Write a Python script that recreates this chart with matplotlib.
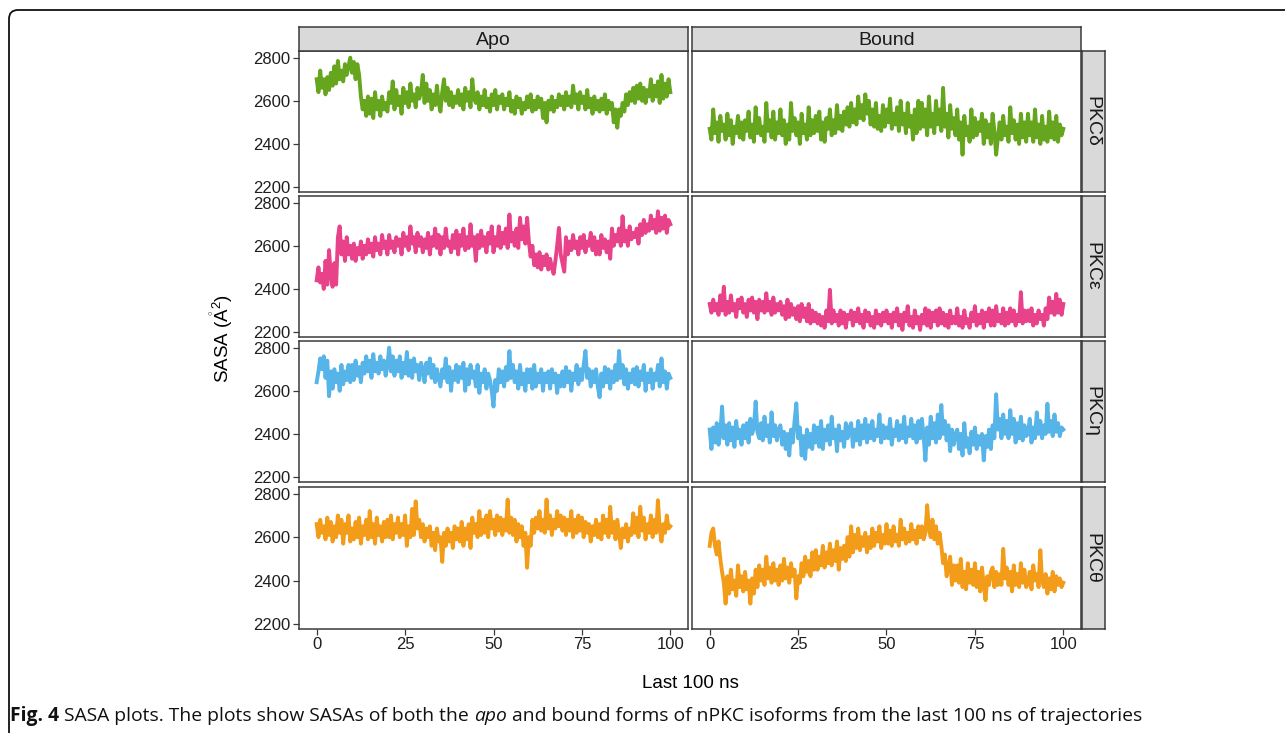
import matplotlib
matplotlib.use("Agg")
import matplotlib.pyplot as plt
import numpy as np
from matplotlib.patches import FancyBboxPatch
from matplotlib.transforms import IdentityTransform

plt.rcParams['font.family'] = ['Liberation Sans', 'DejaVu Sans']
plt.rcParams['mathtext.fontset'] = 'custom'
plt.rcParams['mathtext.rm'] = 'Liberation Sans'
plt.rcParams['mathtext.it'] = 'Liberation Sans:italic'

forms = ['Apo', 'Bound']
isoforms = ['PKCδ', 'PKCε', 'PKCη', 'PKCθ']
colors = ['#66A61E', '#E7428A', '#56B4E9', '#F39C1A']
y_ticks = [2200, 2400, 2600, 2800]
x_ticks = [0, 25, 50, 75, 100]

# SASA (A^2), one value every 0.5 ns (0 .. 100 ns)
apo_delta = [
    2700, 2640, 2740, 2660, 2700, 2630, 2710, 2650, 2730, 2670,
    2760, 2680, 2785, 2700, 2740, 2690, 2770, 2720, 2760, 2800,
    2730, 2780, 2700, 2770, 2720, 2620, 2560, 2600, 2530, 2620,
    2540, 2610, 2520, 2640, 2560, 2600, 2530, 2620, 2560, 2590,
    2550, 2640, 2590, 2690, 2560, 2650, 2580, 2620, 2540, 2660,
    2590, 2640, 2570, 2680, 2600, 2630, 2570, 2660, 2610, 2640,
    2720, 2590, 2680, 2600, 2650, 2560, 2630, 2580, 2670, 2590,
    2550, 2640, 2700, 2600, 2660, 2580, 2640, 2570, 2620, 2590,
    2650, 2580, 2630, 2560, 2660, 2600, 2640, 2570, 2700, 2610,
    2590, 2640, 2560, 2620, 2580, 2650, 2570, 2610, 2550, 2630,
    2580, 2650, 2560, 2620, 2590, 2630, 2560, 2610, 2580, 2640,
    2550, 2600, 2540, 2620, 2570, 2610, 2540, 2590, 2560, 2620,
    2570, 2630, 2550, 2600, 2560, 2620, 2570, 2610, 2520, 2590,
    2500, 2600, 2560, 2620, 2550, 2600, 2570, 2630, 2580, 2620,
    2560, 2640, 2580, 2620, 2570, 2670, 2590, 2630, 2560, 2640,
    2590, 2620, 2560, 2650, 2570, 2610, 2540, 2620, 2560, 2600,
    2550, 2610, 2560, 2630, 2540, 2600, 2560, 2590, 2500, 2560,
    2475, 2560, 2530, 2590, 2550, 2630, 2580, 2640, 2600, 2660,
    2590, 2670, 2610, 2680, 2600, 2660, 2590, 2650, 2620, 2700,
    2600, 2670, 2620, 2690, 2590, 2720, 2610, 2680, 2620, 2700,
    2640]
bound_delta = [
    2470, 2420, 2560, 2450, 2500, 2410, 2530, 2460, 2490, 2420,
    2540, 2440, 2510, 2400, 2480, 2450, 2530, 2430, 2500, 2420,
    2510, 2460, 2550, 2430, 2490, 2410, 2570, 2450, 2520, 2440,
    2480, 2410, 2590, 2460, 2510, 2430, 2550, 2420, 2500, 2450,
    2560, 2440, 2510, 2400, 2490, 2420, 2590, 2460, 2520, 2440,
    2500, 2400, 2540, 2450, 2490, 2420, 2570, 2440, 2510, 2450,
    2530, 2460, 2550, 2420, 2500, 2410, 2520, 2470, 2560, 2440,
    2510, 2450, 2580, 2470, 2530, 2460, 2550, 2490, 2570, 2480,
    2590, 2500, 2560, 2490, 2620, 2520, 2580, 2510, 2630, 2540,
    2600, 2490, 2560, 2480, 2590, 2470, 2530, 2460, 2580, 2480,
    2560, 2500, 2610, 2470, 2540, 2490, 2570, 2460, 2600, 2490,
    2540, 2450, 2590, 2480, 2530, 2420, 2560, 2450, 2600, 2470,
    2590, 2480, 2560, 2440, 2620, 2480, 2540, 2450, 2600, 2490,
    2560, 2460, 2660, 2480, 2540, 2430, 2580, 2470, 2520, 2440,
    2560, 2420, 2500, 2350, 2530, 2440, 2480, 2410, 2560, 2430,
    2520, 2440, 2500, 2460, 2540, 2400, 2510, 2430, 2490, 2400,
    2540, 2460, 2350, 2430, 2500, 2420, 2530, 2440, 2480, 2410,
    2570, 2450, 2510, 2420, 2490, 2400, 2540, 2430, 2500, 2410,
    2540, 2440, 2500, 2410, 2560, 2430, 2490, 2400, 2530, 2420,
    2480, 2410, 2550, 2430, 2500, 2420, 2530, 2410, 2490, 2440,
    2470]
apo_epsilon = [
    2440, 2500, 2430, 2470, 2400, 2530, 2420, 2580, 2460, 2410,
    2520, 2420, 2640, 2690, 2560, 2620, 2530, 2640, 2560, 2600,
    2540, 2610, 2530, 2590, 2560, 2620, 2540, 2600, 2560, 2630,
    2570, 2610, 2550, 2640, 2580, 2610, 2560, 2650, 2590, 2620,
    2560, 2650, 2590, 2620, 2570, 2640, 2600, 2630, 2560, 2660,
    2600, 2640, 2580, 2690, 2610, 2640, 2570, 2660, 2600, 2640,
    2570, 2630, 2590, 2660, 2560, 2640, 2600, 2680, 2590, 2650,
    2560, 2640, 2590, 2680, 2600, 2620, 2570, 2650, 2590, 2670,
    2560, 2650, 2600, 2680, 2580, 2640, 2590, 2700, 2600, 2640,
    2530, 2650, 2590, 2670, 2600, 2640, 2570, 2660, 2610, 2690,
    2570, 2640, 2600, 2690, 2590, 2660, 2610, 2680, 2590, 2745,
    2620, 2660, 2600, 2680, 2590, 2730, 2630, 2690, 2610, 2730,
    2620, 2550, 2600, 2510, 2560, 2500, 2570, 2490, 2550, 2510,
    2560, 2490, 2540, 2500, 2470, 2530, 2600, 2683, 2560, 2520,
    2480, 2640, 2560, 2620, 2580, 2650, 2590, 2620, 2560, 2640,
    2590, 2650, 2570, 2620, 2600, 2660, 2580, 2640, 2560, 2620,
    2560, 2650, 2590, 2630, 2570, 2620, 2540, 2680, 2600, 2650,
    2620, 2680, 2600, 2737, 2620, 2670, 2600, 2690, 2630, 2660,
    2640, 2680, 2610, 2700, 2650, 2720, 2660, 2700, 2670, 2740,
    2680, 2720, 2660, 2760, 2670, 2730, 2680, 2740, 2660, 2720,
    2700]
bound_epsilon = [
    2330, 2290, 2350, 2300, 2330, 2280, 2370, 2300, 2410, 2280,
    2340, 2290, 2370, 2300, 2330, 2270, 2350, 2310, 2360, 2290,
    2330, 2270, 2350, 2300, 2360, 2290, 2340, 2260, 2350, 2300,
    2340, 2290, 2380, 2300, 2340, 2280, 2360, 2290, 2330, 2300,
    2340, 2280, 2320, 2260, 2350, 2270, 2330, 2280, 2310, 2260,
    2320, 2250, 2330, 2270, 2310, 2250, 2330, 2240, 2300, 2250,
    2290, 2240, 2280, 2230, 2270, 2220, 2300, 2250, 2396, 2240,
    2300, 2250, 2280, 2230, 2300, 2240, 2290, 2220, 2280, 2260,
    2300, 2230, 2290, 2250, 2310, 2240, 2280, 2220, 2300, 2250,
    2290, 2230, 2270, 2220, 2300, 2240, 2280, 2230, 2290, 2250,
    2300, 2240, 2280, 2220, 2290, 2250, 2310, 2230, 2280, 2210,
    2290, 2250, 2320, 2230, 2270, 2220, 2300, 2240, 2270, 2210,
    2280, 2240, 2310, 2230, 2300, 2220, 2290, 2250, 2300, 2230,
    2310, 2240, 2290, 2230, 2280, 2220, 2300, 2240, 2270, 2240,
    2310, 2230, 2270, 2220, 2300, 2240, 2260, 2220, 2290, 2250,
    2320, 2230, 2280, 2240, 2300, 2220, 2290, 2250, 2310, 2230,
    2300, 2230, 2320, 2250, 2280, 2240, 2310, 2230, 2290, 2240,
    2310, 2250, 2300, 2230, 2280, 2250, 2385, 2240, 2300, 2250,
    2300, 2250, 2310, 2230, 2280, 2240, 2300, 2260, 2280, 2230,
    2310, 2260, 2360, 2290, 2340, 2280, 2377, 2290, 2350, 2280,
    2330]
apo_eta = [
    2640, 2690, 2750, 2700, 2760, 2660, 2740, 2575, 2690, 2610,
    2700, 2640, 2680, 2600, 2720, 2630, 2690, 2650, 2720, 2640,
    2720, 2650, 2740, 2670, 2710, 2640, 2730, 2680, 2760, 2690,
    2740, 2660, 2770, 2690, 2730, 2680, 2760, 2700, 2740, 2670,
    2720, 2800, 2690, 2760, 2670, 2740, 2690, 2760, 2660, 2730,
    2680, 2780, 2670, 2740, 2660, 2750, 2690, 2720, 2650, 2730,
    2700, 2640, 2730, 2680, 2750, 2660, 2720, 2640, 2700, 2660,
    2620, 2700, 2660, 2750, 2640, 2710, 2600, 2690, 2650, 2720,
    2640, 2710, 2660, 2730, 2600, 2700, 2630, 2720, 2660, 2690,
    2620, 2720, 2590, 2680, 2640, 2700, 2610, 2680, 2650, 2600,
    2527, 2650, 2600, 2700, 2640, 2690, 2620, 2710, 2650, 2784,
    2660, 2720, 2640, 2690, 2610, 2720, 2630, 2680, 2600, 2700,
    2640, 2700, 2610, 2720, 2620, 2680, 2640, 2700, 2600, 2680,
    2640, 2690, 2610, 2700, 2640, 2680, 2590, 2670, 2620, 2690,
    2620, 2710, 2640, 2690, 2600, 2680, 2650, 2720, 2630, 2700,
    2650, 2720, 2785, 2660, 2700, 2620, 2690, 2640, 2700, 2620,
    2570, 2680, 2620, 2710, 2640, 2700, 2610, 2690, 2640, 2720,
    2650, 2785, 2660, 2720, 2630, 2700, 2610, 2680, 2640, 2700,
    2630, 2710, 2620, 2690, 2650, 2720, 2600, 2680, 2640, 2700,
    2610, 2680, 2650, 2720, 2620, 2750, 2640, 2690, 2610, 2680,
    2660]
bound_eta = [
    2420, 2330, 2430, 2360, 2450, 2350, 2400, 2527, 2380, 2440,
    2350, 2450, 2370, 2430, 2340, 2460, 2380, 2420, 2350, 2440,
    2380, 2450, 2360, 2470, 2400, 2430, 2550, 2410, 2380, 2450,
    2370, 2480, 2390, 2440, 2360, 2500, 2390, 2440, 2370, 2420,
    2440, 2350, 2410, 2330, 2400, 2300, 2420, 2360, 2460, 2542,
    2380, 2430, 2300, 2390, 2284, 2420, 2340, 2400, 2330, 2440,
    2360, 2430, 2340, 2460, 2330, 2420, 2370, 2440, 2350, 2480,
    2380, 2420, 2320, 2440, 2370, 2410, 2340, 2450, 2380, 2430,
    2450, 2340, 2420, 2370, 2460, 2350, 2440, 2380, 2470, 2360,
    2440, 2380, 2460, 2370, 2420, 2390, 2490, 2360, 2440, 2380,
    2430, 2380, 2470, 2350, 2420, 2390, 2460, 2370, 2440, 2380,
    2480, 2360, 2430, 2390, 2470, 2380, 2440, 2360, 2460, 2380,
    2470, 2390, 2277, 2430, 2350, 2480, 2380, 2450, 2360, 2490,
    2380, 2534, 2400, 2460, 2370, 2440, 2320, 2420, 2350, 2400,
    2420, 2330, 2400, 2300, 2450, 2340, 2380, 2310, 2410, 2350,
    2430, 2330, 2390, 2350, 2400, 2277, 2390, 2340, 2420, 2330,
    2440, 2380, 2584, 2420, 2470, 2380, 2490, 2400, 2460, 2380,
    2510, 2400, 2470, 2360, 2450, 2380, 2480, 2370, 2440, 2390,
    2400, 2470, 2360, 2430, 2380, 2500, 2400, 2460, 2380, 2440,
    2400, 2540, 2410, 2460, 2390, 2490, 2410, 2450, 2390, 2430,
    2420]
apo_theta = [
    2660, 2600, 2680, 2620, 2650, 2590, 2690, 2610, 2670, 2580,
    2650, 2600, 2700, 2620, 2680, 2570, 2660, 2620, 2700, 2580,
    2640, 2590, 2670, 2600, 2690, 2570, 2650, 2610, 2680, 2590,
    2720, 2600, 2660, 2570, 2690, 2610, 2650, 2580, 2670, 2600,
    2680, 2600, 2700, 2590, 2660, 2620, 2690, 2600, 2660, 2610,
    2700, 2560, 2650, 2600, 2730, 2610, 2765, 2640, 2680, 2600,
    2660, 2580, 2640, 2600, 2650, 2560, 2620, 2540, 2640, 2580,
    2600, 2486, 2620, 2560, 2640, 2580, 2620, 2550, 2650, 2590,
    2640, 2580, 2670, 2560, 2640, 2590, 2660, 2550, 2690, 2620,
    2660, 2600, 2720, 2610, 2680, 2620, 2700, 2600, 2720, 2640,
    2680, 2610, 2700, 2630, 2690, 2610, 2680, 2630, 2773, 2620,
    2690, 2610, 2680, 2580, 2660, 2600, 2650, 2560, 2620, 2459,
    2600, 2560, 2680, 2620, 2690, 2640, 2720, 2630, 2680, 2620,
    2773, 2640, 2700, 2610, 2680, 2640, 2720, 2650, 2700, 2630,
    2690, 2610, 2680, 2630, 2720, 2600, 2680, 2620, 2700, 2630,
    2690, 2600, 2670, 2620, 2660, 2580, 2650, 2610, 2680, 2600,
    2660, 2590, 2700, 2620, 2680, 2600, 2740, 2620, 2670, 2590,
    2680, 2620, 2550, 2640, 2600, 2660, 2580, 2640, 2610, 2710,
    2620, 2690, 2600, 2740, 2630, 2690, 2590, 2660, 2620, 2700,
    2600, 2680, 2620, 2770, 2640, 2580, 2660, 2620, 2700, 2640,
    2650]
bound_theta = [
    2560, 2620, 2640, 2560, 2520, 2580, 2500, 2440, 2390, 2294,
    2420, 2340, 2450, 2360, 2400, 2330, 2470, 2370, 2420, 2350,
    2440, 2360, 2400, 2294, 2410, 2340, 2450, 2370, 2470, 2400,
    2450, 2380, 2510, 2410, 2460, 2390, 2480, 2400, 2450, 2380,
    2470, 2400, 2500, 2410, 2460, 2390, 2480, 2420, 2450, 2318,
    2420, 2390, 2480, 2420, 2510, 2440, 2490, 2420, 2530, 2450,
    2540, 2450, 2510, 2470, 2560, 2460, 2530, 2480, 2570, 2470,
    2540, 2490, 2580, 2450, 2550, 2500, 2560, 2490, 2600, 2510,
    2650, 2530, 2610, 2550, 2640, 2540, 2600, 2560, 2620, 2530,
    2600, 2550, 2640, 2560, 2620, 2580, 2650, 2550, 2610, 2570,
    2660, 2570, 2630, 2560, 2650, 2580, 2610, 2560, 2680, 2590,
    2640, 2570, 2620, 2580, 2660, 2590, 2630, 2570, 2650, 2600,
    2650, 2590, 2620, 2747, 2640, 2600, 2680, 2590, 2650, 2570,
    2620, 2560, 2480, 2520, 2420, 2460, 2510, 2380, 2470, 2400,
    2470, 2390, 2500, 2370, 2440, 2360, 2480, 2390, 2450, 2380,
    2480, 2370, 2440, 2350, 2460, 2380, 2310, 2420, 2380, 2440,
    2460, 2370, 2440, 2380, 2430, 2380, 2546, 2410, 2460, 2380,
    2440, 2350, 2470, 2380, 2430, 2370, 2480, 2390, 2450, 2370,
    2390, 2440, 2360, 2470, 2400, 2430, 2370, 2540, 2400, 2370,
    2430, 2340, 2410, 2360, 2440, 2350, 2420, 2380, 2410, 2370,
    2390]

series = [[apo_delta, bound_delta],
          [apo_epsilon, bound_epsilon],
          [apo_eta, bound_eta],
          [apo_theta, bound_theta]]

W, H = 1285, 733
fig = plt.figure(figsize=(W / 100, H / 100), dpi=100)

def px_axes(x0, y0, x1, y1):
    # pixel box (top-left origin) -> figure axes
    return fig.add_axes([x0 / W, 1 - y1 / H, (x1 - x0) / W, (y1 - y0) / H])

col_x = [(299, 688), (692, 1081)]
row_y = [(51, 192), (196, 337), (341, 482), (487, 629)]
edge = '#3a3a3a'
strip_fc = '#D9D9D9'

for i, iso in enumerate(isoforms):
    for j, form in enumerate(forms):
        ax = px_axes(col_x[j][0], row_y[i][0], col_x[j][1], row_y[i][1])
        vals = series[i][j]
        t = np.linspace(0, 100, len(vals))
        ax.plot(t, vals, color=colors[i], lw=2.8)
        ax.set_xlim(-5, 105)
        ax.set_ylim(2177, 2831)
        ax.set_xticks(x_ticks)
        ax.set_yticks(y_ticks)
        for s in ax.spines.values():
            s.set_color(edge)
            s.set_linewidth(1.1)
        ax.tick_params(length=4, width=0.9, color=edge, labelsize=12,
                       labelcolor='#1e1e1e', pad=2)
        if j > 0:
            ax.tick_params(axis='y', left=False, labelleft=False)
        if i < 3:
            ax.tick_params(axis='x', bottom=False, labelbottom=False)

# top strips
for j, form in enumerate(forms):
    sx = px_axes(col_x[j][0], 27, col_x[j][1], 51)
    sx.set_facecolor(strip_fc)
    sx.set_xticks([])
    sx.set_yticks([])
    for s in sx.spines.values():
        s.set_color(edge)
        s.set_linewidth(1.1)
    sx.text(0.5, 0.45, form, ha='center', va='center', fontsize=14,
            color='#1a1a1a', transform=sx.transAxes)

# right strips
for i, iso in enumerate(isoforms):
    sx = px_axes(1082, row_y[i][0], 1105, row_y[i][1])
    sx.set_facecolor(strip_fc)
    sx.set_xticks([])
    sx.set_yticks([])
    for s in sx.spines.values():
        s.set_color(edge)
        s.set_linewidth(1.1)
    sx.text(0.45, 0.5, iso, ha='center', va='center', fontsize=14,
            rotation=-90, color='#1a1a1a', transform=sx.transAxes)

fig.text(690 / W, 1 - 683 / H, 'Last 100 ns', ha='center', va='center',
         fontsize=13.5)
fig.text(222 / W, 1 - 338 / H, r'SASA ($\mathrm{\mathring{A}}^{2}$)',
         ha='center', va='center', rotation=90, fontsize=13.5)

# rounded frame around the figure
frame = FancyBboxPatch((9, -40), 1400, H - 10 + 40,
                       boxstyle='round,pad=0,rounding_size=9',
                       transform=IdentityTransform(), fill=False,
                       ec='#111111', lw=1.3)
fig.patches.append(frame)

# caption, built from pieces
renderer = fig.canvas.get_renderer()
parts = [('Fig. 4', 'bold', 'normal'),
         (' SASA plots. The plots show SASAs of both the ', 'normal', 'normal'),
         ('apo', 'normal', 'italic'),
         (' and bound forms of nPKC isoforms from the last 100 ns of trajectories',
          'normal', 'normal')]
xpos = 10
for txt, wt, st in parts:
    tx = fig.text(xpos / W, 1 - 716 / H, txt, ha='left', va='center',
                  fontsize=13.9, fontweight=wt, fontstyle=st,
                  family=['Open Sans', 'DejaVu Sans'], color='#111111')
    bb = tx.get_window_extent(renderer)
    xpos += bb.width

fig.savefig('out.png', dpi=100)
